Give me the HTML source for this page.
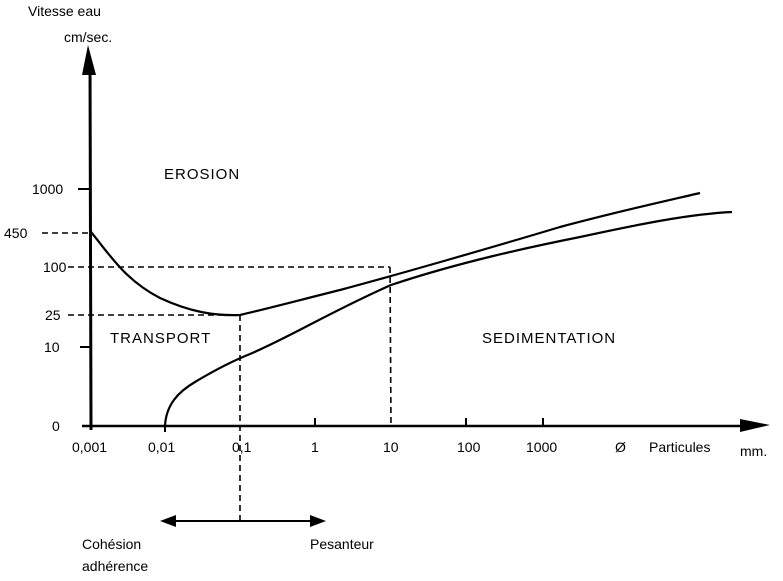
<!DOCTYPE html>
<html><head><meta charset="utf-8"><style>
body{margin:0;background:#fff;}
svg{display:block;}
text{font-family:"Liberation Sans",sans-serif;fill:#000;}
</style></head><body>
<svg width="783" height="581" viewBox="0 0 783 581" xmlns="http://www.w3.org/2000/svg">
<g stroke="#000" fill="none">
<line x1="90" y1="60" x2="91" y2="430" stroke-width="3"/>
<polygon points="82,75 88,45 96,75" fill="#000" stroke="none"/>
<line x1="82" y1="426" x2="750" y2="426" stroke-width="2.5"/>
<polygon points="740,419 770,425 740,432" fill="#000" stroke="none"/>
<g stroke-width="2">
<line x1="78" y1="189" x2="90" y2="189"/>
<line x1="80" y1="347" x2="90" y2="347"/>
<line x1="165" y1="426" x2="165" y2="432"/>
<line x1="315" y1="418" x2="315" y2="426"/>
<line x1="466" y1="418" x2="466" y2="426"/>
<line x1="543" y1="418" x2="543" y2="426"/>
</g>
<g stroke-width="1.6" stroke-dasharray="6,4">
<line x1="42" y1="233" x2="91" y2="233"/>
<line x1="68" y1="267" x2="390" y2="267"/>
<line x1="390" y1="267" x2="391" y2="426"/>
<line x1="68" y1="315" x2="240" y2="315"/>
<line x1="240" y1="315" x2="240" y2="520"/>
</g>
<path d="M91,232 C110,255 125,280 160,298 C190,312 215,316 240,315 C270,308 300,300 340,290 C400,274 500,245 560,227 C620,211 670,200 700,193" stroke-width="2.2"/>
<path d="M165,426 C166,405 178,392 195,382 C215,370 235,360 250,354 C290,337 330,312 391,285 C460,262 530,247 580,237 C640,224 690,214 732,212" stroke-width="2.2"/>
<line x1="170" y1="521" x2="315" y2="521" stroke-width="2"/>
<polygon points="160,521 176,515 176,527" fill="#000" stroke="none"/>
<polygon points="326,521 310,515 310,527" fill="#000" stroke="none"/>
</g>
<g font-size="14">
<text x="28" y="16">Vitesse eau</text>
<text x="64" y="42">cm/sec.</text>
<text x="32" y="194">1000</text>
<text x="4" y="238">450</text>
<text x="43" y="272">100</text>
<text x="45" y="320">25</text>
<text x="44" y="352">10</text>
<text x="52" y="431">0</text>
<text x="72" y="452">0,001</text>
<text x="148" y="452">0,01</text>
<text x="232" y="452">0,1</text>
<text x="311" y="452">1</text>
<text x="383" y="452">10</text>
<text x="457" y="452">100</text>
<text x="526" y="452">1000</text>
<text x="615" y="452">Ø</text>
<text x="649" y="452">Particules</text>
<text x="740" y="456">mm.</text>
<text x="164" y="179" font-size="15" letter-spacing="1">EROSION</text>
<text x="110" y="343" font-size="15" letter-spacing="1">TRANSPORT</text>
<text x="482" y="343" font-size="15" letter-spacing="1">SEDIMENTATION</text>
<text x="82" y="549">Cohésion</text>
<text x="82" y="571">adhérence</text>
<text x="310" y="549">Pesanteur</text>
</g>
</svg>
</body></html>
